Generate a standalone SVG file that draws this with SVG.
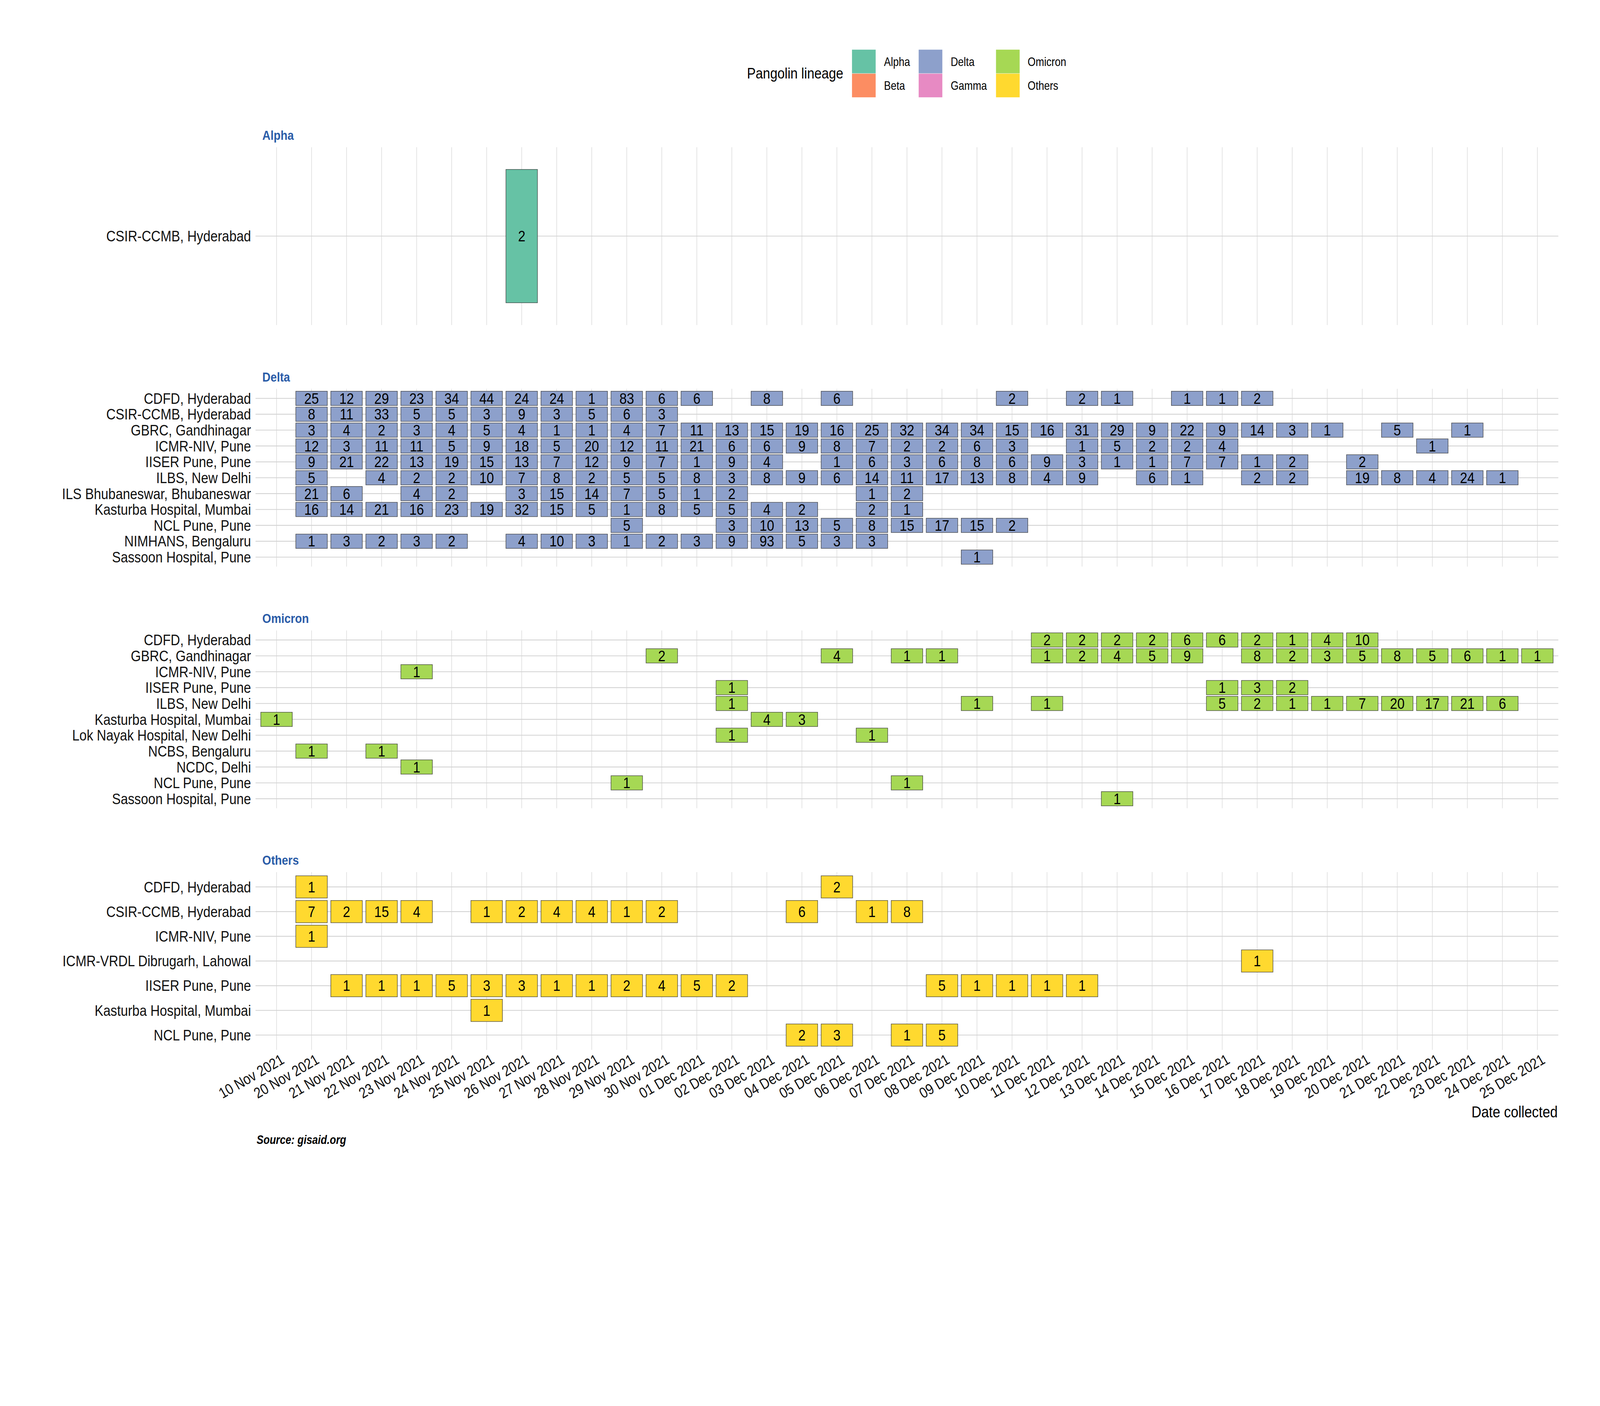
<svg xmlns="http://www.w3.org/2000/svg" width="4800" height="3600" viewBox="0 0 4800 3600" preserveAspectRatio="xMidYMin meet">
<style>
:root{width:100vw;height:100vh}
text{font-family:"Liberation Sans",Arial,sans-serif;fill:#000}
.n{font-size:46px;text-anchor:middle;transform-box:fill-box;transform-origin:center;transform:scaleX(0.86)}
.yl{font-size:46px;text-anchor:end;fill:#111}
.xl{font-size:45px;text-anchor:end;fill:#111}
.st{font-size:40px;font-weight:bold;fill:#2a5ca8}
.lg{font-size:36px}
.lt{font-size:46px}
.at{font-size:48px;text-anchor:end}
.cap{font-size:36px;font-weight:bold;font-style:italic}
.vg{stroke:#d9d9d9;stroke-width:1.6;fill:none}
.hg{stroke:#d3d3d3;stroke-width:2.5;fill:none}
.tile{stroke:#333;stroke-width:1.6;stroke-opacity:0.85}
.cA{fill:#66c2a5}.cB{fill:#fc8d62}.cD{fill:#8da0cb}.cG{fill:#e78ac3}.cO{fill:#a6d854}.cY{fill:#ffd92f}
</style>
<defs>
<path id="vg" class="vg" d="M829.6 0v533.5M934.7 0v533.5M1039.7 0v533.5M1144.8 0v533.5M1249.9 0v533.5M1355 0v533.5M1460 0v533.5M1565.1 0v533.5M1670.2 0v533.5M1775.2 0v533.5M1880.3 0v533.5M1985.4 0v533.5M2090.4 0v533.5M2195.5 0v533.5M2300.6 0v533.5M2405.7 0v533.5M2510.7 0v533.5M2615.8 0v533.5M2720.9 0v533.5M2825.9 0v533.5M2931 0v533.5M3036.1 0v533.5M3141.1 0v533.5M3246.2 0v533.5M3351.3 0v533.5M3456.4 0v533.5M3561.4 0v533.5M3666.5 0v533.5M3771.6 0v533.5M3876.6 0v533.5M3981.7 0v533.5M4086.8 0v533.5M4191.8 0v533.5M4296.9 0v533.5M4402 0v533.5M4507.1 0v533.5M4612.1 0v533.5"/>
<path id="hg11" class="hg" d="M766.6 0H4675M766.6 47.63H4675M766.6 95.27H4675M766.6 142.9H4675M766.6 190.54H4675M766.6 238.17H4675M766.6 285.8H4675M766.6 333.44H4675M766.6 381.07H4675M766.6 428.71H4675M766.6 476.34H4675"/>
<rect id="td" class="tile cD" x="-47.3" y="-21.43" width="94.6" height="42.87"/>
<rect id="to" class="tile cO" x="-47.3" y="-21.43" width="94.6" height="42.87"/>
<rect id="ty" class="tile cY" x="-47.3" y="-33.35" width="94.6" height="66.7"/>
</defs>
<rect width="4800" height="3600" fill="#fff"/>

<g id="legend">
<g transform="translate(2241,0) scale(0.85,1)"><text class="lt" x="0" y="236">Pangolin lineage</text></g>
<rect class="cA" x="2556" y="149" width="71" height="71"/>
<rect class="cB" x="2556" y="221" width="71" height="71"/>
<rect class="cD" x="2756" y="149" width="71" height="71"/>
<rect class="cG" x="2756" y="221" width="71" height="71"/>
<rect class="cO" x="2988" y="149" width="71" height="71"/>
<rect class="cY" x="2988" y="221" width="71" height="71"/>
<g transform="translate(2652,0) scale(0.85,1)"><text class="lg" x="0" y="198">Alpha</text><text class="lg" x="0" y="270">Beta</text></g>
<g transform="translate(2852,0) scale(0.85,1)"><text class="lg" x="0" y="198">Delta</text><text class="lg" x="0" y="270">Gamma</text></g>
<g transform="translate(3083,0) scale(0.85,1)"><text class="lg" x="0" y="198">Omicron</text><text class="lg" x="0" y="270">Others</text></g>
</g>

<g id="grid">
<use href="#vg" y="441.7"/>
<use href="#vg" y="1166.7"/>
<use href="#vg" y="1891.7"/>
<use href="#vg" y="2616.7"/>
<path class="hg" d="M766.6 708.45H4675"/>
<use href="#hg11" y="1195.3"/>
<use href="#hg11" y="1920.3"/>
<path class="hg" d="M766.6 2661.2H4675M766.6 2735.3H4675M766.6 2809.4H4675M766.6 2883.5H4675M766.6 2957.6H4675M766.6 3031.7H4675M766.6 3105.8H4675"/>
</g>

<g id="panel-alpha">
<g transform="translate(787,0) scale(0.85,1)"><text class="st" x="0" y="419.7">Alpha</text></g>
<g transform="translate(753,0) scale(0.85,1)"><text class="yl" x="0" y="724.5">CSIR-CCMB, Hyderabad</text></g>
<rect class="tile cA" x="1517.8" y="508.4" width="94.6" height="400.1"/>
<text class="n" x="1565.1" y="724.5">2</text>
</g>

<g id="panel-delta">
<g transform="translate(787,0) scale(0.85,1)"><text class="st" x="0" y="1144.7">Delta</text></g>
<g id="delta-labels" transform="translate(753,0) scale(0.85,1)">
<text class="yl" x="0" y="1211.3">CDFD, Hyderabad</text>
<text class="yl" x="0" y="1258.9">CSIR-CCMB, Hyderabad</text>
<text class="yl" x="0" y="1306.6">GBRC, Gandhinagar</text>
<text class="yl" x="0" y="1354.2">ICMR-NIV, Pune</text>
<text class="yl" x="0" y="1401.8">IISER Pune, Pune</text>
<text class="yl" x="0" y="1449.5">ILBS, New Delhi</text>
<text class="yl" x="0" y="1497.1">ILS Bhubaneswar, Bhubaneswar</text>
<text class="yl" x="0" y="1544.7">Kasturba Hospital, Mumbai</text>
<text class="yl" x="0" y="1592.4">NCL Pune, Pune</text>
<text class="yl" x="0" y="1640">NIMHANS, Bengaluru</text>
<text class="yl" x="0" y="1687.6">Sassoon Hospital, Pune</text>
</g>
<g id="delta-cdfd" transform="translate(0,1195.3)">
<use href="#td" x="934.7"/><text class="n" x="934.7" y="16">25</text>
<use href="#td" x="1039.7"/><text class="n" x="1039.7" y="16">12</text>
<use href="#td" x="1144.8"/><text class="n" x="1144.8" y="16">29</text>
<use href="#td" x="1249.9"/><text class="n" x="1249.9" y="16">23</text>
<use href="#td" x="1355"/><text class="n" x="1355" y="16">34</text>
<use href="#td" x="1460"/><text class="n" x="1460" y="16">44</text>
<use href="#td" x="1565.1"/><text class="n" x="1565.1" y="16">24</text>
<use href="#td" x="1670.2"/><text class="n" x="1670.2" y="16">24</text>
<use href="#td" x="1775.2"/><text class="n" x="1775.2" y="16">1</text>
<use href="#td" x="1880.3"/><text class="n" x="1880.3" y="16">83</text>
<use href="#td" x="1985.4"/><text class="n" x="1985.4" y="16">6</text>
<use href="#td" x="2090.4"/><text class="n" x="2090.4" y="16">6</text>
<use href="#td" x="2300.6"/><text class="n" x="2300.6" y="16">8</text>
<use href="#td" x="2510.7"/><text class="n" x="2510.7" y="16">6</text>
<use href="#td" x="3036.1"/><text class="n" x="3036.1" y="16">2</text>
<use href="#td" x="3246.2"/><text class="n" x="3246.2" y="16">2</text>
<use href="#td" x="3351.3"/><text class="n" x="3351.3" y="16">1</text>
<use href="#td" x="3561.4"/><text class="n" x="3561.4" y="16">1</text>
<use href="#td" x="3666.5"/><text class="n" x="3666.5" y="16">1</text>
<use href="#td" x="3771.6"/><text class="n" x="3771.6" y="16">2</text>
</g>
<g id="delta-csir" transform="translate(0,1242.9)">
<use href="#td" x="934.7"/><text class="n" x="934.7" y="16">8</text>
<use href="#td" x="1039.7"/><text class="n" x="1039.7" y="16">11</text>
<use href="#td" x="1144.8"/><text class="n" x="1144.8" y="16">33</text>
<use href="#td" x="1249.9"/><text class="n" x="1249.9" y="16">5</text>
<use href="#td" x="1355"/><text class="n" x="1355" y="16">5</text>
<use href="#td" x="1460"/><text class="n" x="1460" y="16">3</text>
<use href="#td" x="1565.1"/><text class="n" x="1565.1" y="16">9</text>
<use href="#td" x="1670.2"/><text class="n" x="1670.2" y="16">3</text>
<use href="#td" x="1775.2"/><text class="n" x="1775.2" y="16">5</text>
<use href="#td" x="1880.3"/><text class="n" x="1880.3" y="16">6</text>
<use href="#td" x="1985.4"/><text class="n" x="1985.4" y="16">3</text>
</g>
<g id="delta-gbrc" transform="translate(0,1290.6)">
<use href="#td" x="934.7"/><text class="n" x="934.7" y="16">3</text>
<use href="#td" x="1039.7"/><text class="n" x="1039.7" y="16">4</text>
<use href="#td" x="1144.8"/><text class="n" x="1144.8" y="16">2</text>
<use href="#td" x="1249.9"/><text class="n" x="1249.9" y="16">3</text>
<use href="#td" x="1355"/><text class="n" x="1355" y="16">4</text>
<use href="#td" x="1460"/><text class="n" x="1460" y="16">5</text>
<use href="#td" x="1565.1"/><text class="n" x="1565.1" y="16">4</text>
<use href="#td" x="1670.2"/><text class="n" x="1670.2" y="16">1</text>
<use href="#td" x="1775.2"/><text class="n" x="1775.2" y="16">1</text>
<use href="#td" x="1880.3"/><text class="n" x="1880.3" y="16">4</text>
<use href="#td" x="1985.4"/><text class="n" x="1985.4" y="16">7</text>
<use href="#td" x="2090.4"/><text class="n" x="2090.4" y="16">11</text>
<use href="#td" x="2195.5"/><text class="n" x="2195.5" y="16">13</text>
<use href="#td" x="2300.6"/><text class="n" x="2300.6" y="16">15</text>
<use href="#td" x="2405.7"/><text class="n" x="2405.7" y="16">19</text>
<use href="#td" x="2510.7"/><text class="n" x="2510.7" y="16">16</text>
<use href="#td" x="2615.8"/><text class="n" x="2615.8" y="16">25</text>
<use href="#td" x="2720.9"/><text class="n" x="2720.9" y="16">32</text>
<use href="#td" x="2825.9"/><text class="n" x="2825.9" y="16">34</text>
<use href="#td" x="2931"/><text class="n" x="2931" y="16">34</text>
<use href="#td" x="3036.1"/><text class="n" x="3036.1" y="16">15</text>
<use href="#td" x="3141.1"/><text class="n" x="3141.1" y="16">16</text>
<use href="#td" x="3246.2"/><text class="n" x="3246.2" y="16">31</text>
<use href="#td" x="3351.3"/><text class="n" x="3351.3" y="16">29</text>
<use href="#td" x="3456.4"/><text class="n" x="3456.4" y="16">9</text>
<use href="#td" x="3561.4"/><text class="n" x="3561.4" y="16">22</text>
<use href="#td" x="3666.5"/><text class="n" x="3666.5" y="16">9</text>
<use href="#td" x="3771.6"/><text class="n" x="3771.6" y="16">14</text>
<use href="#td" x="3876.6"/><text class="n" x="3876.6" y="16">3</text>
<use href="#td" x="3981.7"/><text class="n" x="3981.7" y="16">1</text>
<use href="#td" x="4191.8"/><text class="n" x="4191.8" y="16">5</text>
<use href="#td" x="4402"/><text class="n" x="4402" y="16">1</text>
</g>
<g id="delta-icmrniv" transform="translate(0,1338.2)">
<use href="#td" x="934.7"/><text class="n" x="934.7" y="16">12</text>
<use href="#td" x="1039.7"/><text class="n" x="1039.7" y="16">3</text>
<use href="#td" x="1144.8"/><text class="n" x="1144.8" y="16">11</text>
<use href="#td" x="1249.9"/><text class="n" x="1249.9" y="16">11</text>
<use href="#td" x="1355"/><text class="n" x="1355" y="16">5</text>
<use href="#td" x="1460"/><text class="n" x="1460" y="16">9</text>
<use href="#td" x="1565.1"/><text class="n" x="1565.1" y="16">18</text>
<use href="#td" x="1670.2"/><text class="n" x="1670.2" y="16">5</text>
<use href="#td" x="1775.2"/><text class="n" x="1775.2" y="16">20</text>
<use href="#td" x="1880.3"/><text class="n" x="1880.3" y="16">12</text>
<use href="#td" x="1985.4"/><text class="n" x="1985.4" y="16">11</text>
<use href="#td" x="2090.4"/><text class="n" x="2090.4" y="16">21</text>
<use href="#td" x="2195.5"/><text class="n" x="2195.5" y="16">6</text>
<use href="#td" x="2300.6"/><text class="n" x="2300.6" y="16">6</text>
<use href="#td" x="2405.7"/><text class="n" x="2405.7" y="16">9</text>
<use href="#td" x="2510.7"/><text class="n" x="2510.7" y="16">8</text>
<use href="#td" x="2615.8"/><text class="n" x="2615.8" y="16">7</text>
<use href="#td" x="2720.9"/><text class="n" x="2720.9" y="16">2</text>
<use href="#td" x="2825.9"/><text class="n" x="2825.9" y="16">2</text>
<use href="#td" x="2931"/><text class="n" x="2931" y="16">6</text>
<use href="#td" x="3036.1"/><text class="n" x="3036.1" y="16">3</text>
<use href="#td" x="3246.2"/><text class="n" x="3246.2" y="16">1</text>
<use href="#td" x="3351.3"/><text class="n" x="3351.3" y="16">5</text>
<use href="#td" x="3456.4"/><text class="n" x="3456.4" y="16">2</text>
<use href="#td" x="3561.4"/><text class="n" x="3561.4" y="16">2</text>
<use href="#td" x="3666.5"/><text class="n" x="3666.5" y="16">4</text>
<use href="#td" x="4296.9"/><text class="n" x="4296.9" y="16">1</text>
</g>
<g id="delta-iiser" transform="translate(0,1385.8)">
<use href="#td" x="934.7"/><text class="n" x="934.7" y="16">9</text>
<use href="#td" x="1039.7"/><text class="n" x="1039.7" y="16">21</text>
<use href="#td" x="1144.8"/><text class="n" x="1144.8" y="16">22</text>
<use href="#td" x="1249.9"/><text class="n" x="1249.9" y="16">13</text>
<use href="#td" x="1355"/><text class="n" x="1355" y="16">19</text>
<use href="#td" x="1460"/><text class="n" x="1460" y="16">15</text>
<use href="#td" x="1565.1"/><text class="n" x="1565.1" y="16">13</text>
<use href="#td" x="1670.2"/><text class="n" x="1670.2" y="16">7</text>
<use href="#td" x="1775.2"/><text class="n" x="1775.2" y="16">12</text>
<use href="#td" x="1880.3"/><text class="n" x="1880.3" y="16">9</text>
<use href="#td" x="1985.4"/><text class="n" x="1985.4" y="16">7</text>
<use href="#td" x="2090.4"/><text class="n" x="2090.4" y="16">1</text>
<use href="#td" x="2195.5"/><text class="n" x="2195.5" y="16">9</text>
<use href="#td" x="2300.6"/><text class="n" x="2300.6" y="16">4</text>
<use href="#td" x="2510.7"/><text class="n" x="2510.7" y="16">1</text>
<use href="#td" x="2615.8"/><text class="n" x="2615.8" y="16">6</text>
<use href="#td" x="2720.9"/><text class="n" x="2720.9" y="16">3</text>
<use href="#td" x="2825.9"/><text class="n" x="2825.9" y="16">6</text>
<use href="#td" x="2931"/><text class="n" x="2931" y="16">8</text>
<use href="#td" x="3036.1"/><text class="n" x="3036.1" y="16">6</text>
<use href="#td" x="3141.1"/><text class="n" x="3141.1" y="16">9</text>
<use href="#td" x="3246.2"/><text class="n" x="3246.2" y="16">3</text>
<use href="#td" x="3351.3"/><text class="n" x="3351.3" y="16">1</text>
<use href="#td" x="3456.4"/><text class="n" x="3456.4" y="16">1</text>
<use href="#td" x="3561.4"/><text class="n" x="3561.4" y="16">7</text>
<use href="#td" x="3666.5"/><text class="n" x="3666.5" y="16">7</text>
<use href="#td" x="3771.6"/><text class="n" x="3771.6" y="16">1</text>
<use href="#td" x="3876.6"/><text class="n" x="3876.6" y="16">2</text>
<use href="#td" x="4086.8"/><text class="n" x="4086.8" y="16">2</text>
</g>
<g id="delta-ilbs" transform="translate(0,1433.5)">
<use href="#td" x="934.7"/><text class="n" x="934.7" y="16">5</text>
<use href="#td" x="1144.8"/><text class="n" x="1144.8" y="16">4</text>
<use href="#td" x="1249.9"/><text class="n" x="1249.9" y="16">2</text>
<use href="#td" x="1355"/><text class="n" x="1355" y="16">2</text>
<use href="#td" x="1460"/><text class="n" x="1460" y="16">10</text>
<use href="#td" x="1565.1"/><text class="n" x="1565.1" y="16">7</text>
<use href="#td" x="1670.2"/><text class="n" x="1670.2" y="16">8</text>
<use href="#td" x="1775.2"/><text class="n" x="1775.2" y="16">2</text>
<use href="#td" x="1880.3"/><text class="n" x="1880.3" y="16">5</text>
<use href="#td" x="1985.4"/><text class="n" x="1985.4" y="16">5</text>
<use href="#td" x="2090.4"/><text class="n" x="2090.4" y="16">8</text>
<use href="#td" x="2195.5"/><text class="n" x="2195.5" y="16">3</text>
<use href="#td" x="2300.6"/><text class="n" x="2300.6" y="16">8</text>
<use href="#td" x="2405.7"/><text class="n" x="2405.7" y="16">9</text>
<use href="#td" x="2510.7"/><text class="n" x="2510.7" y="16">6</text>
<use href="#td" x="2615.8"/><text class="n" x="2615.8" y="16">14</text>
<use href="#td" x="2720.9"/><text class="n" x="2720.9" y="16">11</text>
<use href="#td" x="2825.9"/><text class="n" x="2825.9" y="16">17</text>
<use href="#td" x="2931"/><text class="n" x="2931" y="16">13</text>
<use href="#td" x="3036.1"/><text class="n" x="3036.1" y="16">8</text>
<use href="#td" x="3141.1"/><text class="n" x="3141.1" y="16">4</text>
<use href="#td" x="3246.2"/><text class="n" x="3246.2" y="16">9</text>
<use href="#td" x="3456.4"/><text class="n" x="3456.4" y="16">6</text>
<use href="#td" x="3561.4"/><text class="n" x="3561.4" y="16">1</text>
<use href="#td" x="3771.6"/><text class="n" x="3771.6" y="16">2</text>
<use href="#td" x="3876.6"/><text class="n" x="3876.6" y="16">2</text>
<use href="#td" x="4086.8"/><text class="n" x="4086.8" y="16">19</text>
<use href="#td" x="4191.8"/><text class="n" x="4191.8" y="16">8</text>
<use href="#td" x="4296.9"/><text class="n" x="4296.9" y="16">4</text>
<use href="#td" x="4402"/><text class="n" x="4402" y="16">24</text>
<use href="#td" x="4507.1"/><text class="n" x="4507.1" y="16">1</text>
</g>
<g id="delta-ils" transform="translate(0,1481.1)">
<use href="#td" x="934.7"/><text class="n" x="934.7" y="16">21</text>
<use href="#td" x="1039.7"/><text class="n" x="1039.7" y="16">6</text>
<use href="#td" x="1249.9"/><text class="n" x="1249.9" y="16">4</text>
<use href="#td" x="1355"/><text class="n" x="1355" y="16">2</text>
<use href="#td" x="1565.1"/><text class="n" x="1565.1" y="16">3</text>
<use href="#td" x="1670.2"/><text class="n" x="1670.2" y="16">15</text>
<use href="#td" x="1775.2"/><text class="n" x="1775.2" y="16">14</text>
<use href="#td" x="1880.3"/><text class="n" x="1880.3" y="16">7</text>
<use href="#td" x="1985.4"/><text class="n" x="1985.4" y="16">5</text>
<use href="#td" x="2090.4"/><text class="n" x="2090.4" y="16">1</text>
<use href="#td" x="2195.5"/><text class="n" x="2195.5" y="16">2</text>
<use href="#td" x="2615.8"/><text class="n" x="2615.8" y="16">1</text>
<use href="#td" x="2720.9"/><text class="n" x="2720.9" y="16">2</text>
</g>
<g id="delta-kasturba" transform="translate(0,1528.7)">
<use href="#td" x="934.7"/><text class="n" x="934.7" y="16">16</text>
<use href="#td" x="1039.7"/><text class="n" x="1039.7" y="16">14</text>
<use href="#td" x="1144.8"/><text class="n" x="1144.8" y="16">21</text>
<use href="#td" x="1249.9"/><text class="n" x="1249.9" y="16">16</text>
<use href="#td" x="1355"/><text class="n" x="1355" y="16">23</text>
<use href="#td" x="1460"/><text class="n" x="1460" y="16">19</text>
<use href="#td" x="1565.1"/><text class="n" x="1565.1" y="16">32</text>
<use href="#td" x="1670.2"/><text class="n" x="1670.2" y="16">15</text>
<use href="#td" x="1775.2"/><text class="n" x="1775.2" y="16">5</text>
<use href="#td" x="1880.3"/><text class="n" x="1880.3" y="16">1</text>
<use href="#td" x="1985.4"/><text class="n" x="1985.4" y="16">8</text>
<use href="#td" x="2090.4"/><text class="n" x="2090.4" y="16">5</text>
<use href="#td" x="2195.5"/><text class="n" x="2195.5" y="16">5</text>
<use href="#td" x="2300.6"/><text class="n" x="2300.6" y="16">4</text>
<use href="#td" x="2405.7"/><text class="n" x="2405.7" y="16">2</text>
<use href="#td" x="2615.8"/><text class="n" x="2615.8" y="16">2</text>
<use href="#td" x="2720.9"/><text class="n" x="2720.9" y="16">1</text>
</g>
<g id="delta-ncl" transform="translate(0,1576.4)">
<use href="#td" x="1880.3"/><text class="n" x="1880.3" y="16">5</text>
<use href="#td" x="2195.5"/><text class="n" x="2195.5" y="16">3</text>
<use href="#td" x="2300.6"/><text class="n" x="2300.6" y="16">10</text>
<use href="#td" x="2405.7"/><text class="n" x="2405.7" y="16">13</text>
<use href="#td" x="2510.7"/><text class="n" x="2510.7" y="16">5</text>
<use href="#td" x="2615.8"/><text class="n" x="2615.8" y="16">8</text>
<use href="#td" x="2720.9"/><text class="n" x="2720.9" y="16">15</text>
<use href="#td" x="2825.9"/><text class="n" x="2825.9" y="16">17</text>
<use href="#td" x="2931"/><text class="n" x="2931" y="16">15</text>
<use href="#td" x="3036.1"/><text class="n" x="3036.1" y="16">2</text>
</g>
<g id="delta-nimhans" transform="translate(0,1624)">
<use href="#td" x="934.7"/><text class="n" x="934.7" y="16">1</text>
<use href="#td" x="1039.7"/><text class="n" x="1039.7" y="16">3</text>
<use href="#td" x="1144.8"/><text class="n" x="1144.8" y="16">2</text>
<use href="#td" x="1249.9"/><text class="n" x="1249.9" y="16">3</text>
<use href="#td" x="1355"/><text class="n" x="1355" y="16">2</text>
<use href="#td" x="1565.1"/><text class="n" x="1565.1" y="16">4</text>
<use href="#td" x="1670.2"/><text class="n" x="1670.2" y="16">10</text>
<use href="#td" x="1775.2"/><text class="n" x="1775.2" y="16">3</text>
<use href="#td" x="1880.3"/><text class="n" x="1880.3" y="16">1</text>
<use href="#td" x="1985.4"/><text class="n" x="1985.4" y="16">2</text>
<use href="#td" x="2090.4"/><text class="n" x="2090.4" y="16">3</text>
<use href="#td" x="2195.5"/><text class="n" x="2195.5" y="16">9</text>
<use href="#td" x="2300.6"/><text class="n" x="2300.6" y="16">93</text>
<use href="#td" x="2405.7"/><text class="n" x="2405.7" y="16">5</text>
<use href="#td" x="2510.7"/><text class="n" x="2510.7" y="16">3</text>
<use href="#td" x="2615.8"/><text class="n" x="2615.8" y="16">3</text>
</g>
<g id="delta-sassoon" transform="translate(0,1671.6)">
<use href="#td" x="2931"/><text class="n" x="2931" y="16">1</text>
</g>
</g>

<g id="panel-omicron">
<g transform="translate(787,0) scale(0.85,1)"><text class="st" x="0" y="1869.7">Omicron</text></g>
<g id="omicron-labels" transform="translate(753,0) scale(0.85,1)">
<text class="yl" x="0" y="1936.3">CDFD, Hyderabad</text>
<text class="yl" x="0" y="1983.9">GBRC, Gandhinagar</text>
<text class="yl" x="0" y="2031.6">ICMR-NIV, Pune</text>
<text class="yl" x="0" y="2079.2">IISER Pune, Pune</text>
<text class="yl" x="0" y="2126.8">ILBS, New Delhi</text>
<text class="yl" x="0" y="2174.5">Kasturba Hospital, Mumbai</text>
<text class="yl" x="0" y="2222.1">Lok Nayak Hospital, New Delhi</text>
<text class="yl" x="0" y="2269.7">NCBS, Bengaluru</text>
<text class="yl" x="0" y="2317.4">NCDC, Delhi</text>
<text class="yl" x="0" y="2365">NCL Pune, Pune</text>
<text class="yl" x="0" y="2412.6">Sassoon Hospital, Pune</text>
</g>
<g id="omicron-cdfd" transform="translate(0,1920.3)">
<use href="#to" x="3141.1"/><text class="n" x="3141.1" y="16">2</text>
<use href="#to" x="3246.2"/><text class="n" x="3246.2" y="16">2</text>
<use href="#to" x="3351.3"/><text class="n" x="3351.3" y="16">2</text>
<use href="#to" x="3456.4"/><text class="n" x="3456.4" y="16">2</text>
<use href="#to" x="3561.4"/><text class="n" x="3561.4" y="16">6</text>
<use href="#to" x="3666.5"/><text class="n" x="3666.5" y="16">6</text>
<use href="#to" x="3771.6"/><text class="n" x="3771.6" y="16">2</text>
<use href="#to" x="3876.6"/><text class="n" x="3876.6" y="16">1</text>
<use href="#to" x="3981.7"/><text class="n" x="3981.7" y="16">4</text>
<use href="#to" x="4086.8"/><text class="n" x="4086.8" y="16">10</text>
</g>
<g id="omicron-gbrc" transform="translate(0,1967.9)">
<use href="#to" x="1985.4"/><text class="n" x="1985.4" y="16">2</text>
<use href="#to" x="2510.7"/><text class="n" x="2510.7" y="16">4</text>
<use href="#to" x="2720.9"/><text class="n" x="2720.9" y="16">1</text>
<use href="#to" x="2825.9"/><text class="n" x="2825.9" y="16">1</text>
<use href="#to" x="3141.1"/><text class="n" x="3141.1" y="16">1</text>
<use href="#to" x="3246.2"/><text class="n" x="3246.2" y="16">2</text>
<use href="#to" x="3351.3"/><text class="n" x="3351.3" y="16">4</text>
<use href="#to" x="3456.4"/><text class="n" x="3456.4" y="16">5</text>
<use href="#to" x="3561.4"/><text class="n" x="3561.4" y="16">9</text>
<use href="#to" x="3771.6"/><text class="n" x="3771.6" y="16">8</text>
<use href="#to" x="3876.6"/><text class="n" x="3876.6" y="16">2</text>
<use href="#to" x="3981.7"/><text class="n" x="3981.7" y="16">3</text>
<use href="#to" x="4086.8"/><text class="n" x="4086.8" y="16">5</text>
<use href="#to" x="4191.8"/><text class="n" x="4191.8" y="16">8</text>
<use href="#to" x="4296.9"/><text class="n" x="4296.9" y="16">5</text>
<use href="#to" x="4402"/><text class="n" x="4402" y="16">6</text>
<use href="#to" x="4507.1"/><text class="n" x="4507.1" y="16">1</text>
<use href="#to" x="4612.1"/><text class="n" x="4612.1" y="16">1</text>
</g>
<g id="omicron-icmrniv" transform="translate(0,2015.6)">
<use href="#to" x="1249.9"/><text class="n" x="1249.9" y="16">1</text>
</g>
<g id="omicron-iiser" transform="translate(0,2063.2)">
<use href="#to" x="2195.5"/><text class="n" x="2195.5" y="16">1</text>
<use href="#to" x="3666.5"/><text class="n" x="3666.5" y="16">1</text>
<use href="#to" x="3771.6"/><text class="n" x="3771.6" y="16">3</text>
<use href="#to" x="3876.6"/><text class="n" x="3876.6" y="16">2</text>
</g>
<g id="omicron-ilbs" transform="translate(0,2110.8)">
<use href="#to" x="2195.5"/><text class="n" x="2195.5" y="16">1</text>
<use href="#to" x="2931"/><text class="n" x="2931" y="16">1</text>
<use href="#to" x="3141.1"/><text class="n" x="3141.1" y="16">1</text>
<use href="#to" x="3666.5"/><text class="n" x="3666.5" y="16">5</text>
<use href="#to" x="3771.6"/><text class="n" x="3771.6" y="16">2</text>
<use href="#to" x="3876.6"/><text class="n" x="3876.6" y="16">1</text>
<use href="#to" x="3981.7"/><text class="n" x="3981.7" y="16">1</text>
<use href="#to" x="4086.8"/><text class="n" x="4086.8" y="16">7</text>
<use href="#to" x="4191.8"/><text class="n" x="4191.8" y="16">20</text>
<use href="#to" x="4296.9"/><text class="n" x="4296.9" y="16">17</text>
<use href="#to" x="4402"/><text class="n" x="4402" y="16">21</text>
<use href="#to" x="4507.1"/><text class="n" x="4507.1" y="16">6</text>
</g>
<g id="omicron-kasturba" transform="translate(0,2158.5)">
<use href="#to" x="829.6"/><text class="n" x="829.6" y="16">1</text>
<use href="#to" x="2300.6"/><text class="n" x="2300.6" y="16">4</text>
<use href="#to" x="2405.7"/><text class="n" x="2405.7" y="16">3</text>
</g>
<g id="omicron-loknayak" transform="translate(0,2206.1)">
<use href="#to" x="2195.5"/><text class="n" x="2195.5" y="16">1</text>
<use href="#to" x="2615.8"/><text class="n" x="2615.8" y="16">1</text>
</g>
<g id="omicron-ncbs" transform="translate(0,2253.7)">
<use href="#to" x="934.7"/><text class="n" x="934.7" y="16">1</text>
<use href="#to" x="1144.8"/><text class="n" x="1144.8" y="16">1</text>
</g>
<g id="omicron-ncdc" transform="translate(0,2301.4)">
<use href="#to" x="1249.9"/><text class="n" x="1249.9" y="16">1</text>
</g>
<g id="omicron-ncl" transform="translate(0,2349)">
<use href="#to" x="1880.3"/><text class="n" x="1880.3" y="16">1</text>
<use href="#to" x="2720.9"/><text class="n" x="2720.9" y="16">1</text>
</g>
<g id="omicron-sassoon" transform="translate(0,2396.6)">
<use href="#to" x="3351.3"/><text class="n" x="3351.3" y="16">1</text>
</g>
</g>

<g id="panel-others">
<g transform="translate(787,0) scale(0.85,1)"><text class="st" x="0" y="2594.7">Others</text></g>
<g id="others-labels" transform="translate(753,0) scale(0.85,1)">
<text class="yl" x="0" y="2677.2">CDFD, Hyderabad</text>
<text class="yl" x="0" y="2751.3">CSIR-CCMB, Hyderabad</text>
<text class="yl" x="0" y="2825.4">ICMR-NIV, Pune</text>
<text class="yl" x="0" y="2899.5">ICMR-VRDL Dibrugarh, Lahowal</text>
<text class="yl" x="0" y="2973.6">IISER Pune, Pune</text>
<text class="yl" x="0" y="3047.7">Kasturba Hospital, Mumbai</text>
<text class="yl" x="0" y="3121.8">NCL Pune, Pune</text>
</g>
<g id="others-cdfd" transform="translate(0,2661.2)">
<use href="#ty" x="934.7"/><text class="n" x="934.7" y="16">1</text>
<use href="#ty" x="2510.7"/><text class="n" x="2510.7" y="16">2</text>
</g>
<g id="others-csir" transform="translate(0,2735.3)">
<use href="#ty" x="934.7"/><text class="n" x="934.7" y="16">7</text>
<use href="#ty" x="1039.7"/><text class="n" x="1039.7" y="16">2</text>
<use href="#ty" x="1144.8"/><text class="n" x="1144.8" y="16">15</text>
<use href="#ty" x="1249.9"/><text class="n" x="1249.9" y="16">4</text>
<use href="#ty" x="1460"/><text class="n" x="1460" y="16">1</text>
<use href="#ty" x="1565.1"/><text class="n" x="1565.1" y="16">2</text>
<use href="#ty" x="1670.2"/><text class="n" x="1670.2" y="16">4</text>
<use href="#ty" x="1775.2"/><text class="n" x="1775.2" y="16">4</text>
<use href="#ty" x="1880.3"/><text class="n" x="1880.3" y="16">1</text>
<use href="#ty" x="1985.4"/><text class="n" x="1985.4" y="16">2</text>
<use href="#ty" x="2405.7"/><text class="n" x="2405.7" y="16">6</text>
<use href="#ty" x="2615.8"/><text class="n" x="2615.8" y="16">1</text>
<use href="#ty" x="2720.9"/><text class="n" x="2720.9" y="16">8</text>
</g>
<g id="others-icmrniv" transform="translate(0,2809.4)">
<use href="#ty" x="934.7"/><text class="n" x="934.7" y="16">1</text>
</g>
<g id="others-icmrvrdl" transform="translate(0,2883.5)">
<use href="#ty" x="3771.6"/><text class="n" x="3771.6" y="16">1</text>
</g>
<g id="others-iiser" transform="translate(0,2957.6)">
<use href="#ty" x="1039.7"/><text class="n" x="1039.7" y="16">1</text>
<use href="#ty" x="1144.8"/><text class="n" x="1144.8" y="16">1</text>
<use href="#ty" x="1249.9"/><text class="n" x="1249.9" y="16">1</text>
<use href="#ty" x="1355"/><text class="n" x="1355" y="16">5</text>
<use href="#ty" x="1460"/><text class="n" x="1460" y="16">3</text>
<use href="#ty" x="1565.1"/><text class="n" x="1565.1" y="16">3</text>
<use href="#ty" x="1670.2"/><text class="n" x="1670.2" y="16">1</text>
<use href="#ty" x="1775.2"/><text class="n" x="1775.2" y="16">1</text>
<use href="#ty" x="1880.3"/><text class="n" x="1880.3" y="16">2</text>
<use href="#ty" x="1985.4"/><text class="n" x="1985.4" y="16">4</text>
<use href="#ty" x="2090.4"/><text class="n" x="2090.4" y="16">5</text>
<use href="#ty" x="2195.5"/><text class="n" x="2195.5" y="16">2</text>
<use href="#ty" x="2825.9"/><text class="n" x="2825.9" y="16">5</text>
<use href="#ty" x="2931"/><text class="n" x="2931" y="16">1</text>
<use href="#ty" x="3036.1"/><text class="n" x="3036.1" y="16">1</text>
<use href="#ty" x="3141.1"/><text class="n" x="3141.1" y="16">1</text>
<use href="#ty" x="3246.2"/><text class="n" x="3246.2" y="16">1</text>
</g>
<g id="others-kasturba" transform="translate(0,3031.7)">
<use href="#ty" x="1460"/><text class="n" x="1460" y="16">1</text>
</g>
<g id="others-ncl" transform="translate(0,3105.8)">
<use href="#ty" x="2405.7"/><text class="n" x="2405.7" y="16">2</text>
<use href="#ty" x="2510.7"/><text class="n" x="2510.7" y="16">3</text>
<use href="#ty" x="2720.9"/><text class="n" x="2720.9" y="16">1</text>
<use href="#ty" x="2825.9"/><text class="n" x="2825.9" y="16">5</text>
</g>
</g>

<g id="x-axis">
<g transform="translate(839.6,3161) rotate(-30) scale(0.85,1)"><text class="xl" y="32">10 Nov 2021</text></g>
<g transform="translate(944.7,3161) rotate(-30) scale(0.85,1)"><text class="xl" y="32">20 Nov 2021</text></g>
<g transform="translate(1049.7,3161) rotate(-30) scale(0.85,1)"><text class="xl" y="32">21 Nov 2021</text></g>
<g transform="translate(1154.8,3161) rotate(-30) scale(0.85,1)"><text class="xl" y="32">22 Nov 2021</text></g>
<g transform="translate(1259.9,3161) rotate(-30) scale(0.85,1)"><text class="xl" y="32">23 Nov 2021</text></g>
<g transform="translate(1365,3161) rotate(-30) scale(0.85,1)"><text class="xl" y="32">24 Nov 2021</text></g>
<g transform="translate(1470,3161) rotate(-30) scale(0.85,1)"><text class="xl" y="32">25 Nov 2021</text></g>
<g transform="translate(1575.1,3161) rotate(-30) scale(0.85,1)"><text class="xl" y="32">26 Nov 2021</text></g>
<g transform="translate(1680.2,3161) rotate(-30) scale(0.85,1)"><text class="xl" y="32">27 Nov 2021</text></g>
<g transform="translate(1785.2,3161) rotate(-30) scale(0.85,1)"><text class="xl" y="32">28 Nov 2021</text></g>
<g transform="translate(1890.3,3161) rotate(-30) scale(0.85,1)"><text class="xl" y="32">29 Nov 2021</text></g>
<g transform="translate(1995.4,3161) rotate(-30) scale(0.85,1)"><text class="xl" y="32">30 Nov 2021</text></g>
<g transform="translate(2100.4,3161) rotate(-30) scale(0.85,1)"><text class="xl" y="32">01 Dec 2021</text></g>
<g transform="translate(2205.5,3161) rotate(-30) scale(0.85,1)"><text class="xl" y="32">02 Dec 2021</text></g>
<g transform="translate(2310.6,3161) rotate(-30) scale(0.85,1)"><text class="xl" y="32">03 Dec 2021</text></g>
<g transform="translate(2415.7,3161) rotate(-30) scale(0.85,1)"><text class="xl" y="32">04 Dec 2021</text></g>
<g transform="translate(2520.7,3161) rotate(-30) scale(0.85,1)"><text class="xl" y="32">05 Dec 2021</text></g>
<g transform="translate(2625.8,3161) rotate(-30) scale(0.85,1)"><text class="xl" y="32">06 Dec 2021</text></g>
<g transform="translate(2730.9,3161) rotate(-30) scale(0.85,1)"><text class="xl" y="32">07 Dec 2021</text></g>
<g transform="translate(2835.9,3161) rotate(-30) scale(0.85,1)"><text class="xl" y="32">08 Dec 2021</text></g>
<g transform="translate(2941,3161) rotate(-30) scale(0.85,1)"><text class="xl" y="32">09 Dec 2021</text></g>
<g transform="translate(3046.1,3161) rotate(-30) scale(0.85,1)"><text class="xl" y="32">10 Dec 2021</text></g>
<g transform="translate(3151.1,3161) rotate(-30) scale(0.85,1)"><text class="xl" y="32">11 Dec 2021</text></g>
<g transform="translate(3256.2,3161) rotate(-30) scale(0.85,1)"><text class="xl" y="32">12 Dec 2021</text></g>
<g transform="translate(3361.3,3161) rotate(-30) scale(0.85,1)"><text class="xl" y="32">13 Dec 2021</text></g>
<g transform="translate(3466.4,3161) rotate(-30) scale(0.85,1)"><text class="xl" y="32">14 Dec 2021</text></g>
<g transform="translate(3571.4,3161) rotate(-30) scale(0.85,1)"><text class="xl" y="32">15 Dec 2021</text></g>
<g transform="translate(3676.5,3161) rotate(-30) scale(0.85,1)"><text class="xl" y="32">16 Dec 2021</text></g>
<g transform="translate(3781.6,3161) rotate(-30) scale(0.85,1)"><text class="xl" y="32">17 Dec 2021</text></g>
<g transform="translate(3886.6,3161) rotate(-30) scale(0.85,1)"><text class="xl" y="32">18 Dec 2021</text></g>
<g transform="translate(3991.7,3161) rotate(-30) scale(0.85,1)"><text class="xl" y="32">19 Dec 2021</text></g>
<g transform="translate(4096.8,3161) rotate(-30) scale(0.85,1)"><text class="xl" y="32">20 Dec 2021</text></g>
<g transform="translate(4201.8,3161) rotate(-30) scale(0.85,1)"><text class="xl" y="32">21 Dec 2021</text></g>
<g transform="translate(4306.9,3161) rotate(-30) scale(0.85,1)"><text class="xl" y="32">22 Dec 2021</text></g>
<g transform="translate(4412,3161) rotate(-30) scale(0.85,1)"><text class="xl" y="32">23 Dec 2021</text></g>
<g transform="translate(4517.1,3161) rotate(-30) scale(0.85,1)"><text class="xl" y="32">24 Dec 2021</text></g>
<g transform="translate(4622.1,3161) rotate(-30) scale(0.85,1)"><text class="xl" y="32">25 Dec 2021</text></g>
<g transform="translate(4673,0) scale(0.85,1)"><text class="at" x="0" y="3353">Date collected</text></g>
</g>
<g transform="translate(770,0) scale(0.85,1)"><text class="cap" x="0" y="3433">Source: gisaid.org</text></g>
</svg>
